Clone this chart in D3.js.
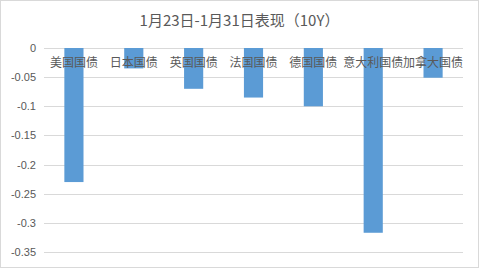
<!DOCTYPE html>
<html lang="zh">
<head>
  <meta charset="UTF-8">
  <title>1月23日-1月31日表现（10Y）</title>
  <script src="https://d3js.org/d3.v7.min.js"></script>
  <style>
    body { margin: 0; padding: 0; background: #fff; }
    svg { display: block; font-family: "Noto Sans CJK SC", "Microsoft YaHei", sans-serif; }
  </style>
</head>
<body>
  <svg width="479" height="268"></svg>
  <script>
    const categories = ["美国国债", "日本国债", "英国国债", "法国国债", "德国国债", "意大利国债", "加拿大国债"];
    const values = [-0.23, -0.035, -0.07, -0.085, -0.1, -0.317, -0.051];
    const yTicks = [0, -0.05, -0.1, -0.15, -0.2, -0.25, -0.3, -0.35];

    const svg = d3.select("svg");
    const W = 479, H = 268;
    const margin = { top: 48, right: 16, bottom: 16, left: 44 };

    svg.append("rect")
      .attr("x", 0.5).attr("y", 0.5)
      .attr("width", W - 1).attr("height", H - 1)
      .attr("fill", "#fff").attr("stroke", "#d9d9d9");

    const x = d3.scaleBand()
      .domain(categories)
      .range([margin.left, W - margin.right])
      .paddingInner(0.68).paddingOuter(0.34);

    const y = d3.scaleLinear()
      .domain([0, -0.35])
      .range([margin.top, 252]);

    // gridlines
    svg.append("g")
      .selectAll("line")
      .data(yTicks)
      .join("line")
      .attr("x1", margin.left).attr("x2", W - margin.right)
      .attr("y1", d => Math.round(y(d)) + 0.5).attr("y2", d => Math.round(y(d)) + 0.5)
      .attr("stroke", "#d9d9d9");

    // y axis labels
    const yAxis = d3.axisLeft(y).tickValues(yTicks).tickSize(0).tickPadding(8)
      .tickFormat(d => d === 0 ? "0" : String(d));
    const ya = svg.append("g").attr("transform", `translate(${margin.left},0)`).call(yAxis);
    ya.select(".domain").remove();
    ya.selectAll("text").attr("fill", "#595959").attr("font-size", 11)
      .attr("font-family", "Liberation Sans, Arial, sans-serif");

    // bars
    svg.append("g")
      .selectAll("rect")
      .data(categories)
      .join("rect")
      .attr("x", d => x(d))
      .attr("width", x.bandwidth())
      .attr("y", y(0))
      .attr("height", (d, i) => y(values[i]) - y(0))
      .attr("fill", "#5b9bd5");

    // category labels just below zero line
    svg.append("g")
      .selectAll("text")
      .data(categories)
      .join("text")
      .attr("x", d => x(d) + x.bandwidth() / 2)
      .attr("y", y(0) + 19)
      .attr("text-anchor", "middle")
      .attr("fill", "#595959")
      .attr("font-size", 12)
      .text(d => d);

    // title
    svg.append("text")
      .attr("x", W / 2).attr("y", 26)
      .attr("text-anchor", "middle")
      .attr("fill", "#595959")
      .attr("font-size", 15)
      .text("1月23日-1月31日表现（10Y）");
  </script>
</body>
</html>
